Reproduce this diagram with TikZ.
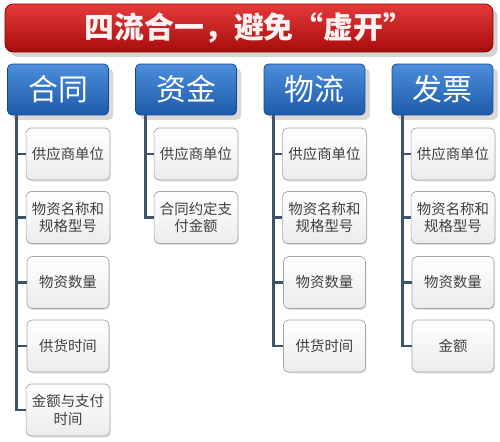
\documentclass[tikz,border=0pt]{standalone}
\usepackage{fontspec}
\setmainfont{Noto Sans CJK SC}
\usetikzlibrary{shadows}
\definecolor{trunkgray}{HTML}{3E5366}
\definecolor{itemtext}{HTML}{404040}
\definecolor{headtop}{HTML}{4C8EDC}
\definecolor{headbot}{HTML}{1E5AAA}
\definecolor{bannertop}{HTML}{E43A3A}
\definecolor{bannerbot}{HTML}{A80C0C}
\begin{document}
\begin{tikzpicture}[x=0.02cm, y=-0.02cm,
    banner/.style={draw=red!50!black, rounded corners=4.5pt, top color=bannertop, bottom color=bannerbot,
        minimum width=9.76cm, minimum height=0.96cm, text=white!95!red, font=\fontsize{17}{20}\selectfont\bfseries,
        drop shadow={opacity=0.35}},
    head/.style={draw=headbot!80!black, rounded corners=2.5pt, top color=headtop, bottom color=headbot,
        minimum width=2.02cm, minimum height=1.02cm, text=white, font=\fontsize{17}{20}\selectfont,
        drop shadow={opacity=0.3}},
    item/.style={draw=gray!70, rounded corners=2.8pt, top color=white, bottom color=gray!15,
        minimum width=1.64cm, minimum height=1.04cm, align=center, text=itemtext,
        font=\fontsize{8.2}{9.8}\selectfont, drop shadow={opacity=0.25, shadow xshift=0.5pt, shadow yshift=-0.8pt}},
    branch/.style={draw=trunkgray, line width=1.6pt}]
    \useasboundingbox (0, 0) rectangle (500, 442);
    %\draw [help lines, thin] (0, 0) grid[step=1cm] (500, 442);
    \node[banner] (title) at (249, 28) {四流合一，避免“虚开”};
    \node[head] (ht) at (58, 89.5) {合同};
    \node[head] (zj) at (186, 89.5) {资金};
    \node[head] (wl) at (314.5, 89.5) {物流};
    \node[head] (fp) at (442.5, 89.5) {发票};
    % contract
    \node[item] (ht1) at (68, 154) {供应商单位};
    \node[item] (ht2) at (68, 217.5) {物资名称和\\规格型号};
    \node[item] (ht3) at (68, 282.5) {物资数量};
    \node[item] (ht4) at (68, 346) {供货时间};
    \node[item] (ht5) at (68, 410) {金额与支付\\时间};
    % money
    \node[item] (zj1) at (196, 154) {供应商单位};
    \node[item] (zj2) at (196, 217.5) {合同约定支\\付金额};
    % logistics
    \node[item] (wl1) at (324.5, 154) {供应商单位};
    \node[item] (wl2) at (324.5, 217.5) {物资名称和\\规格型号};
    \node[item] (wl3) at (324.5, 282.5) {物资数量};
    \node[item] (wl4) at (324.5, 346) {供货时间};
    % invoice
    \node[item] (fp1) at (453, 154) {供应商单位};
    \node[item] (fp2) at (453, 217.5) {物资名称和\\规格型号};
    \node[item] (fp3) at (453, 282.5) {物资数量};
    \node[item] (fp4) at (453, 346) {金额};
    % trunks and stubs
    \draw[branch] ([xshift=0.18cm]ht.south west) |- (ht1.west);
    \draw[branch] ([xshift=0.18cm]ht.south west) |- (ht2.west);
    \draw[branch] ([xshift=0.18cm]ht.south west) |- (ht3.west);
    \draw[branch] ([xshift=0.18cm]ht.south west) |- (ht4.west);
    \draw[branch] ([xshift=0.18cm]ht.south west) |- (ht5.west);
    \draw[branch] ([xshift=0.2cm]zj.south west) |- (zj1.west);
    \draw[branch] ([xshift=0.2cm]zj.south west) |- (zj2.west);
    \draw[branch] ([xshift=0.2cm]wl.south west) |- (wl1.west);
    \draw[branch] ([xshift=0.2cm]wl.south west) |- (wl2.west);
    \draw[branch] ([xshift=0.2cm]wl.south west) |- (wl3.west);
    \draw[branch] ([xshift=0.2cm]wl.south west) |- (wl4.west);
    \draw[branch] ([xshift=0.22cm]fp.south west) |- (fp1.west);
    \draw[branch] ([xshift=0.22cm]fp.south west) |- (fp2.west);
    \draw[branch] ([xshift=0.22cm]fp.south west) |- (fp3.west);
    \draw[branch] ([xshift=0.22cm]fp.south west) |- (fp4.west);
\end{tikzpicture}
\end{document}
